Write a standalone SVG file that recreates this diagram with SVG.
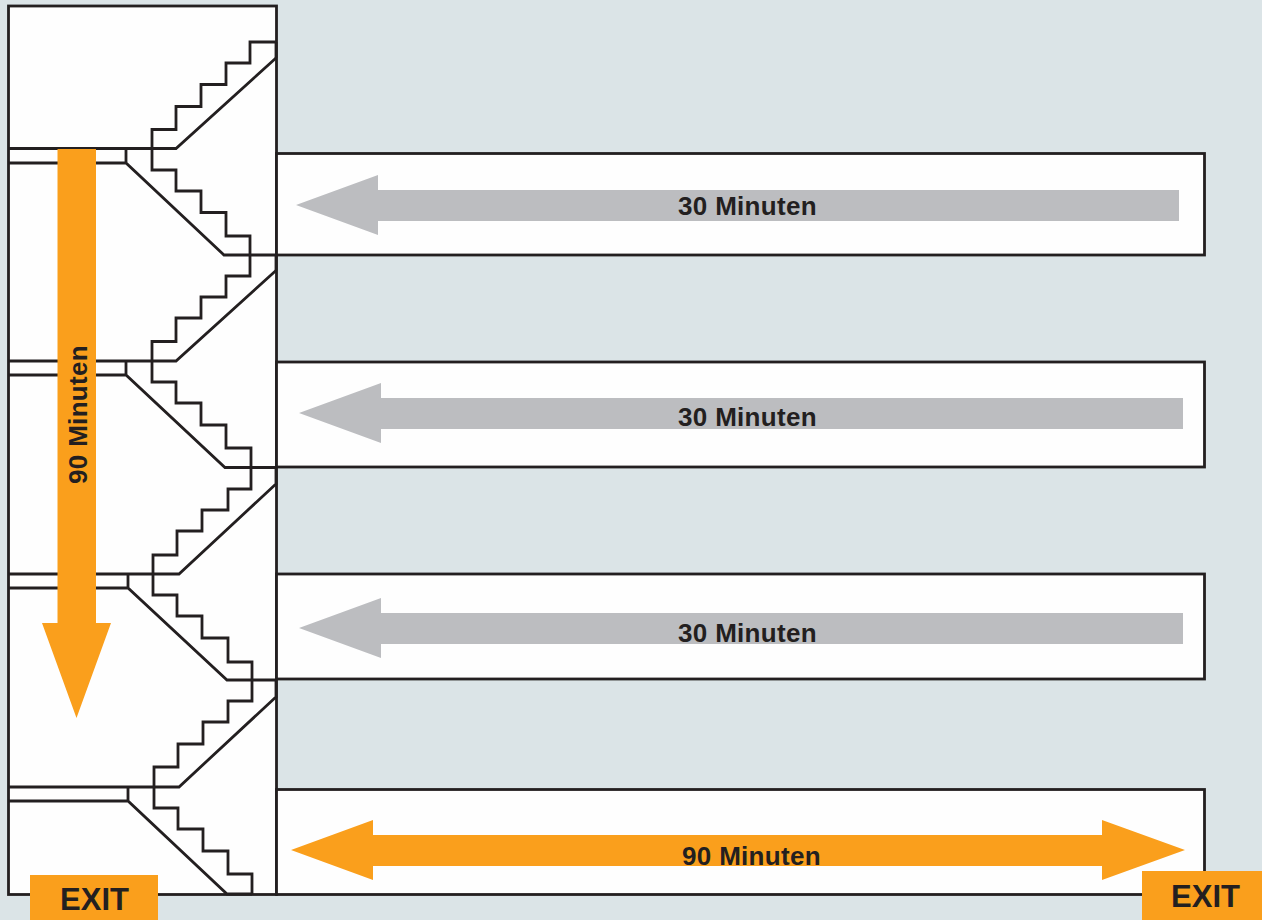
<svg xmlns="http://www.w3.org/2000/svg" width="1262" height="920" viewBox="0 0 1262 920">
<style>
.room{fill:#fefefe;stroke:#231f20;stroke-width:2.8}
.ln{fill:none;stroke:#231f20;stroke-width:2.8;stroke-linejoin:miter}
.t{font-family:"Liberation Sans",Arial,sans-serif;font-weight:bold;fill:#231f20;text-anchor:middle;font-size:26px;letter-spacing:.3px}
.e{font-size:31px;letter-spacing:0}
.o{fill:#fa9f1c}
.g{fill:#bcbdc0}
</style>
<rect width="1262" height="920" fill="#dbe4e7"/>
<g id="building">
<rect class="room" x="8.500" y="6" width="268" height="888.500"/>
</g>
<g id="room-1"><rect class="room" x="276.500" y="153.500" width="928" height="101.500"/></g>
<g id="room-2"><rect class="room" x="276.500" y="362" width="928" height="105"/></g>
<g id="room-3"><rect class="room" x="276.500" y="574" width="928" height="105"/></g>
<g id="room-4"><rect class="room" x="276.500" y="789.500" width="928" height="105"/></g>
<g id="connectors">
<path class="ln" d="M276 42H250V63H226V84.500H201V106.500H176V129.500H152V170H176V191H201V212.500H226V236H250V276H226V297H201V318H176V341.500H152V382H176V403H201V425H226V448H251V489H228V510H202V531H177V555H153V595H177V616H202V638H228V662H252V701H228V722H203V744H178V767H154V808H178V829H203V851H228V874H252V894"/>
<path class="ln" d="M8.500 148.500H176L276 58M8.500 163H126L224 255H276M126 148.500V163"/>
<path class="ln" d="M8.500 361H176L276 270.500M8.500 375H126L225 467.500H276M126 361V375"/>
<path class="ln" d="M8.500 574H179L277 483M8.500 588H128L227 680H276M128 574V588"/>
<path class="ln" d="M8.500 787H179L277 696M8.500 801H128L227 894H252M128 787V801"/>
<path class="ln" d="M276 42V58M276 255V270.500M276 467.500V483M276 680V696"/>
</g>
<g id="arrow-30-1"><polygon class="g" points="296,205 378,175 378,190 1179,190 1179,221 378,221 378,235"/><text class="t" x="747.500" y="215">30 Minuten</text></g>
<g id="arrow-30-2"><polygon class="g" points="299,413 381,383 381,398 1183,398 1183,429 381,429 381,443"/><text class="t" x="747.500" y="426">30 Minuten</text></g>
<g id="arrow-30-3"><polygon class="g" points="299,628 381,598 381,613 1183,613 1183,644 381,644 381,658"/><text class="t" x="747.500" y="642">30 Minuten</text></g>
<g id="arrow-90-h"><polygon class="o" points="291,850 373,820 373,835 1102,835 1102,820 1185,850 1102,880 1102,866 373,866 373,880"/><text class="t" x="751.500" y="865">90 Minuten</text></g>
<g id="arrow-90-v"><polygon class="o" points="57.500,149 96,149 96,623 111,623 76.500,718 42,623 57.500,623"/><text class="t" transform="translate(86.500 414.500) rotate(-90)">90 Minuten</text></g>
<g id="exit-1"><rect class="o" x="30" y="875" width="128" height="45"/><text class="t e" x="94.500" y="910">EXIT</text></g>
<g id="exit-2"><rect class="o" x="1142" y="871" width="120" height="49"/><text class="t e" x="1205.500" y="907">EXIT</text></g>
</svg>
